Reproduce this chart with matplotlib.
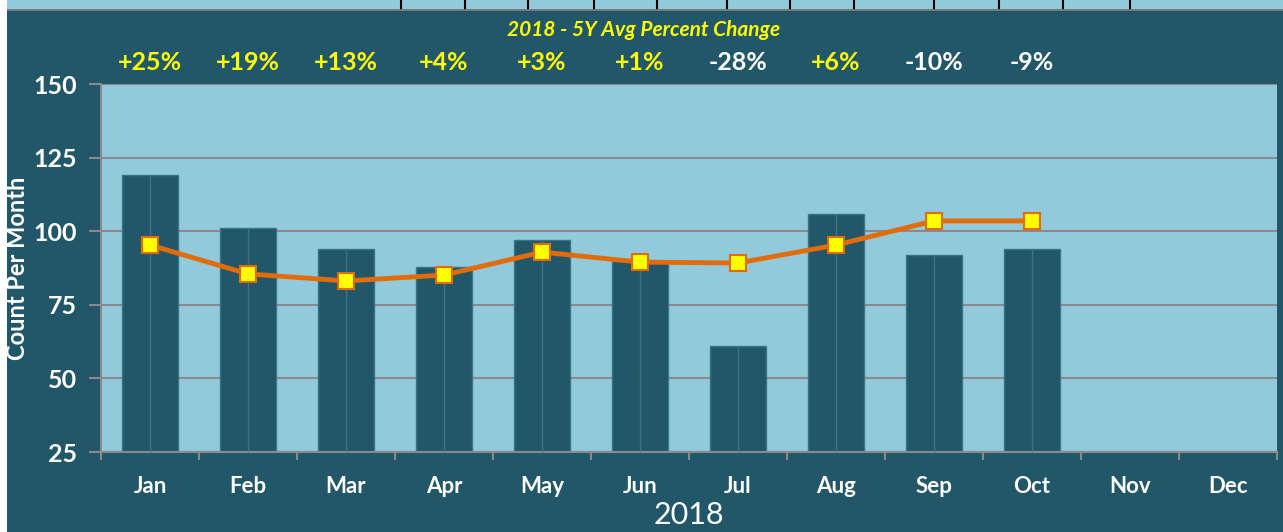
import numpy as np
import matplotlib.pyplot as plt

months = ['Jan', 'Feb', 'Mar', 'Apr', 'May', 'Jun', 'Jul', 'Aug', 'Sep', 'Oct', 'Nov', 'Dec']
counts_2018 = [119, 101, 94, 88, 97, 90, 61, 106, 92, 94]
avg_5y = [95.3, 85.5, 83.1, 85.1, 92.9, 89.5, 89.2, 95.3, 103.5, 103.5]
pct_labels = ['+25%', '+19%', '+13%', '+4%', '+3%', '+1%', '-28%', '+6%', '-10%', '-9%']
yticks = [25, 50, 75, 100, 125, 150]

bg = '#22576A'
face = '#92CADB'
orange = '#E36C0A'

plt.rcParams['font.family'] = ['Lato', 'DejaVu Sans']

fig = plt.figure(figsize=(12.83, 5.32), dpi=100)
fig.patch.set_facecolor('white')

# dark panel behind the chart
panel = fig.add_axes([7 / 1283, 0, 1 - 7 / 1283, 1 - 11 / 532])
panel.set_facecolor(bg)
panel.set_xticks([])
panel.set_yticks([])
for s in panel.spines.values():
    s.set_visible(False)

# leftover strip of the chart above (cut off in the screenshot)
strip_marks = [401, 465, 528, 594, 657, 727, 790, 854, 934, 999, 1063, 1130]
strip = fig.add_axes([7 / 1283, 1 - 11 / 532, 1 - 7 / 1283, 11 / 532])
strip.set_facecolor(face)
strip.set_xlim(7, 1283)
strip.set_ylim(0, 1)
for xm in strip_marks:
    strip.axvline(xm, ymin=0.15, color='black', lw=1.5)
strip.axhline(0.05, color='#777777', lw=2)
strip.set_xticks([])
strip.set_yticks([])
for s in strip.spines.values():
    s.set_visible(False)

ax = fig.add_axes([101 / 1283, 1 - 452 / 532, 1176 / 1283, 368 / 532])
ax.set_facecolor(face)

x = np.arange(len(months))
xb = x[:len(counts_2018)]
ax.bar(xb, np.array(counts_2018) - 25, bottom=25, width=0.57,
       color=bg, edgecolor='#3A7487', linewidth=1, zorder=2)
ax.vlines(xb, 25, counts_2018, color='#3A7487', lw=1, zorder=3)

ax.plot(xb, avg_5y, color=orange, lw=3.5, zorder=4,
        marker='s', markersize=12, markerfacecolor='#FFFF00',
        markeredgecolor=orange, markeredgewidth=1.5)

ax.set_xlim(-0.5, len(months) - 0.5)
ax.set_ylim(25, 150)
ax.set_yticks(yticks)
ax.yaxis.grid(True, color='#8A8A8A', lw=1.5, zorder=1)
ax.set_axisbelow(True)

ax.set_xticks(x)
ax.set_xticklabels(months, fontsize=16, fontweight='bold', color='white')
ax.set_xticks(np.arange(len(months) + 1) - 0.5, minor=True)
ax.tick_params(axis='x', which='major', length=0, pad=17)
ax.tick_params(axis='x', which='minor', length=6, width=1.5, color='#8A8A8A')
ax.tick_params(axis='y', length=9, width=1.5, color='#8A8A8A', pad=8,
               labelsize=18, labelcolor='white')
for lbl in ax.get_yticklabels():
    lbl.set_fontweight('bold')

for side in ['top', 'right']:
    ax.spines[side].set_visible(False)
for side in ['left', 'bottom']:
    ax.spines[side].set_color('#8A8A8A')
    ax.spines[side].set_linewidth(1.5)

ax.set_ylabel('Count Per Month', fontsize=17, fontweight='bold', color='white')
ax.yaxis.set_label_coords(-0.0615, 0.5)

fig.text(689 / 1283, 1 - 515 / 532, '2018', fontsize=22, color='white',
         ha='center', va='center')

fig.text(644 / 1283, 1 - 30 / 532, '2018 - 5Y Avg Percent Change', fontsize=15,
         color='#FFFF00', fontweight='bold', style='italic', ha='center', va='center')

for i, lab in enumerate(pct_labels):
    col = '#FFFF00' if lab.startswith('+') else 'white'
    ax.annotate(lab, xy=(i, 150), xycoords='data', xytext=(0, 15.5),
                textcoords='offset points', ha='center', va='center',
                fontsize=18, fontweight='bold', color=col, annotation_clip=False)

fig.savefig('out.png', dpi=100, facecolor=fig.get_facecolor())
